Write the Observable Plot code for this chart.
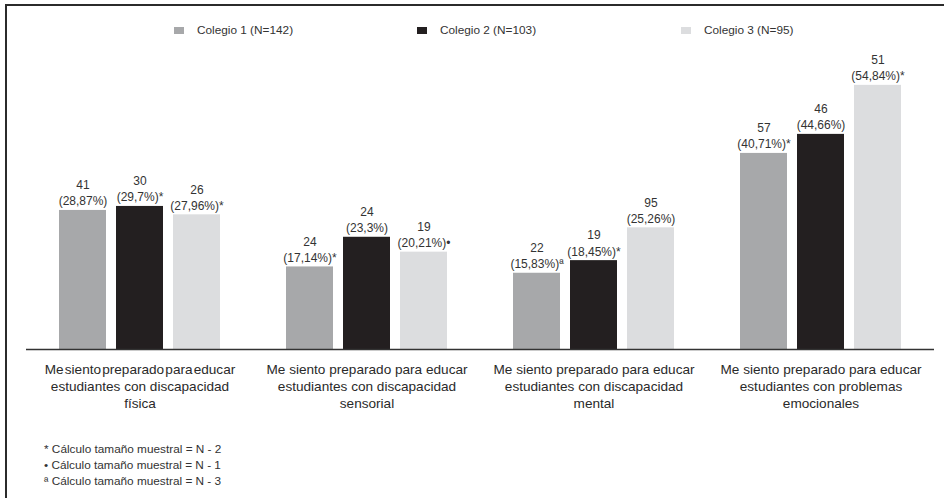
<!DOCTYPE html>
<html>
<head>
<meta charset="utf-8">
<script src="https://cdn.jsdelivr.net/npm/d3@7"></script>
<script src="https://cdn.jsdelivr.net/npm/@observablehq/plot@0.6"></script>
<style>
  html, body { margin: 0; padding: 0; background: #fff; }
  #frame { position: relative; width: 944px; height: 498px; overflow: hidden; font-family: "Liberation Sans", Arial, sans-serif; color: #333; }
  #border { position: absolute; left: 5px; top: 4px; width: 960px; height: 520px; border-top: 2px solid #2b2b2b; border-left: 2px solid #2b2b2b; }
  #legend { position: absolute; left: 0; top: 0; width: 944px; height: 50px; font-size: 11.8px; }
  .li { position: absolute; top: 23px; display: flex; align-items: center; white-space: nowrap; }
  .sw { width: 10px; height: 7px; display: inline-block; }
  #chart { position: absolute; left: 0; top: 50px; }
  #notes { position: absolute; left: 44px; top: 441px; font-size: 11.8px; line-height: 16px; }
</style>
</head>
<body>
<div id="frame">
  <div id="border"></div>
  <div id="legend"></div>
  <div id="chart"></div>
  <div id="notes"></div>
</div>
<script>
const categories = [
  "Me\u200Asiento\u200Apreparado\u200Apara\u200Aeducar\nestudiantes con discapacidad\nfísica",
  "Me siento preparado para educar\nestudiantes con discapacidad\nsensorial",
  "Me siento preparado para educar\nestudiantes con discapacidad\nmental",
  "Me siento preparado para educar\nestudiantes con problemas\nemocionales"
];
const colegios = ["Colegio 1 (N=142)", "Colegio 2 (N=103)", "Colegio 3 (N=95)"];
const colors = ["#a7a8aa", "#231f20", "#dcdddf"];

const counts1 = [41, 24, 22, 57];
const pct1 = [28.87, 17.14, 15.83, 40.71];
const marks1 = ["", "*", "ª", "*"];

const counts2 = [30, 24, 19, 46];
const pct2 = [29.7, 23.3, 18.45, 44.66];
const marks2 = ["*", "", "*", ""];

const counts3 = [26, 19, 95, 51];
const pct3 = [27.96, 20.21, 25.26, 54.84];
const marks3 = ["*", "•", "", "*"];

const footnotes = [
  "* Cálculo tamaño muestral = N - 2",
  "• Cálculo tamaño muestral = N - 1",
  "ª Cálculo tamaño muestral = N - 3"
];

const series = [
  {counts: counts1, pct: pct1, marks: marks1},
  {counts: counts2, pct: pct2, marks: marks2},
  {counts: counts3, pct: pct3, marks: marks3}
];
const data = [];
categories.forEach((c, i) => {
  series.forEach((s, j) => {
    data.push({
      category: c,
      colegio: colegios[j],
      value: s.pct[i],
      label: `${s.counts[i]}\n(${String(s.pct[i]).replace(".", ",")}%)${s.marks[i]}`
    });
  });
});

// Legend
const legend = document.getElementById("legend");
const legendX = [174, 417, 681];
colegios.forEach((name, j) => {
  const item = document.createElement("div");
  item.className = "li";
  item.style.left = legendX[j] + "px";
  item.innerHTML = `<span class="sw" style="background:${colors[j]}"></span><span style="margin-left:13px">${name}</span>`;
  legend.appendChild(item);
});

// Footnotes
document.getElementById("notes").innerHTML = footnotes.map(t => `<div>${t}</div>`).join("");

const chart = Plot.plot({
  width: 944,
  height: 390,
  marginTop: 10,
  marginBottom: 91,
  marginLeft: 26,
  marginRight: 10,
  style: {fontFamily: "'Liberation Sans', Arial, sans-serif", background: "transparent"},
  fx: {domain: categories, padding: 0},
  x: {domain: colegios, paddingInner: 0.18, paddingOuter: 0.56, axis: null},
  y: {domain: [0, 60], axis: null},
  color: {domain: colegios, range: colors},
  marks: [
    Plot.barY(data, {fx: "category", x: "colegio", y: "value", fill: "colegio"}),
    Plot.ruleY([0], {stroke: "#333", strokeWidth: 1.5}),
    Plot.text(data, {fx: "category", x: "colegio", y: "value", text: "label", lineAnchor: "bottom", dy: -5, fontSize: 12, fill: "#333", lineHeight: 1.35}),
    Plot.axisFx({anchor: "bottom", tickSize: 0, tickPadding: 12, fontSize: 13.6, fill: "#2a2a2a", lineHeight: 1.27, label: null})
  ]
});
document.getElementById("chart").appendChild(chart);
</script>
</body>
</html>
